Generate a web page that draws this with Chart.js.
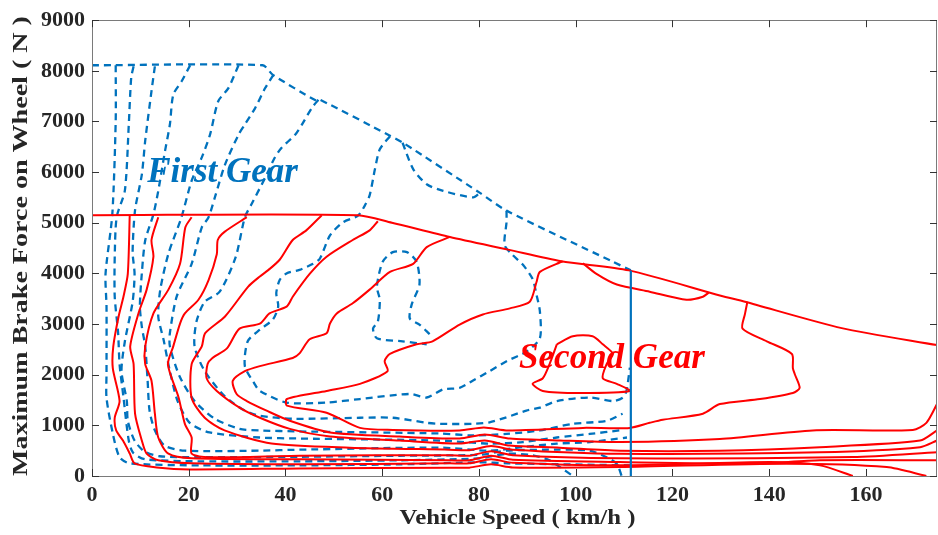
<!DOCTYPE html>
<html><head><meta charset="utf-8">
<script src="https://cdn.jsdelivr.net/npm/chart.js@4.4.0/dist/chart.umd.min.js"></script>
<style>html,body{margin:0;padding:0;background:#fff;}#wrap{width:938px;height:535px;}</style>
</head><body><div id="wrap"><canvas id="c" width="938" height="535"></canvas></div>
<script>
// ---- tick labels / text ----
const xTicks = [0,20,40,60,80,100,120,140,160];
const yTicks = [0,1000,2000,3000,4000,5000,6000,7000,8000,9000];
const xTitle = 'Vehicle Speed ( km/h )';
const yTitle = 'Maximum Brake Force on Wheel ( N )';
const firstGearText = 'First Gear';
const secondGearText = 'Second Gear';
const firstGearAt = [27, 5990];
const secondGearAt = [107.5, 2310];

// ---- second gear (red, solid) contours: [speed km/h, force N] ----
const redBoundary = [[0,5150],[55,5150],[62,5000],[74,4720],[86,4470],[97,4240],[111,4060],[130,3560],[135,3440],[155,2920],[175,2580]];
const red1 = [[7.8,5150],[7.4,3990],[6.5,3540],[5.5,3150],[4.4,2560],[4.3,2130],[5.7,1480],[4.7,1150],[5.0,900],[6.4,700],[7.8,445],[8.8,250],[13.4,170],[20.2,130],[42.9,150],[73.9,165],[78,165],[82.5,230],[87,170],[109.1,176],[143.6,243],[164.3,176],[172.5,0]];
const red2 = [[13.7,5110],[12.3,4660],[12.7,4330],[11.3,3680],[9.6,3210],[7.9,2560],[8.6,2210],[8.9,1230],[10.3,700],[11.3,440],[13.7,310],[20.6,250],[42.9,230],[73.9,250],[78,250],[82.5,330],[87,260],[109.1,210],[140.1,275],[150.5,210],[157.3,0]];
const red3 = [[20.6,5110],[19.3,4910],[18.2,4190],[15.8,3680],[12.7,3210],[11.0,2560],[11.0,2210],[12.3,1880],[13.0,1230],[13.7,760],[15.8,440],[20.6,350],[42.9,330],[73.9,310],[78,310],[82.5,400],[87,320],[109.1,275],[136.6,243],[150.5,310],[174.7,310]];
const red4 = [[32.0,5110],[27.4,4820],[26.0,4660],[25.8,4380],[24.1,3870],[22.0,3480],[19.2,3210],[18.2,3010],[16.8,2560],[15.7,2200],[17.9,1550],[19.2,1030],[20.6,760],[20.6,440],[24.1,370],[42.9,400],[73.9,410],[78,400],[82.5,490],[87,410],[109.1,350],[157.3,373],[174.7,470]];
const red5 = [[47.5,5150],[44.3,4850],[41.5,4660],[38.8,4270],[36.5,4070],[34.7,3940],[32.3,3740],[27.5,3150],[23.4,2820],[22.7,2560],[20.6,2210],[20.6,1540],[23.3,1150],[27.4,900],[37.1,640],[53.3,560],[73.9,520],[78,510],[82.5,590],[87,520],[109.1,440],[150.5,470],[171.2,570],[174.7,700]];
const red6 = [[59.1,5030],[57.4,4850],[53.9,4660],[48.5,4330],[45.0,3990],[41.5,3540],[40.3,3350],[36.7,3210],[34.7,3010],[30.5,2910],[27.9,2520],[24.9,2330],[23.9,2210],[23.7,1930],[25.8,1680],[30.5,1350],[34.7,1150],[40.9,930],[49.2,780],[63.6,700],[76,640],[81.2,700],[86.4,600],[96.7,560],[109.1,500],[129.8,500],[150.5,570],[171.2,700],[174.7,900]];
const red7 = [[74,4720],[69.2,4520],[66.4,4190],[61.6,4030],[57.4,3680],[53.9,3410],[50.6,3210],[49.2,3010],[48.5,2820],[45,2700],[42.9,2420],[41.5,2330],[34.7,2170],[31.6,2070],[29.1,1880],[29.9,1620],[32,1480],[36.1,1290],[40.9,1090],[49.2,860],[63.6,780],[76,740],[81.2,820],[86.4,740],[96.7,700],[109.1,670],[129.8,730],[149,900],[169.7,910],[172.5,1050],[174.7,1420]];
const red8 = [[97.3,4240],[92.6,4030],[91.9,3830],[90.5,3440],[86.4,3310],[80.8,3190],[76,2990],[70.4,2660],[67.1,2600],[61.6,2410],[60.5,2270],[61.1,2070],[55.4,1820],[48.5,1680],[40.3,1520],[40.3,1390],[48.5,1250],[55.4,950],[62.2,910],[76,900],[81,960],[86,900],[101.5,950],[111.2,950],[115.3,1050],[118,1110],[126.3,1230],[129.8,1420],[138.1,1520],[144.9,1640],[146.3,1740],[145.3,2010],[144.9,2130],[144.7,2410],[139.5,2660],[134.5,2910],[135,3200],[135.5,3440]];
const red9 = [[101.5,4200],[104.3,3990],[108.5,3780],[115.3,3640],[122.9,3480],[126.3,3540],[127.5,3620]];
const red10 = [[96.1,2600],[99.4,2760],[103.5,2760],[105.6,2600],[107.7,2410],[106.4,2210],[105.6,1930],[108.5,1820],[111.2,1680],[100.8,1640],[93.2,1680],[91.1,1820],[93.2,1930],[94.6,2210],[96.1,2600]];

// ---- first gear (blue, dashed) contours ----
const blueBoundary = [[0,8110],[35.3,8110],[37.4,7920],[46.4,7410],[47.1,7430],[61.6,6720],[64.3,6580],[80.2,5590],[85.7,5240],[107.7,4230],[111.4,4060]];
const blueShiftLine = [[111.4,0],[111.4,4060]];
const blue1 = [[4.9,8110],[4.9,7010],[4.2,5170],[2.8,3990],[3.0,3350],[3.0,2010],[3.0,1540],[4.3,840],[5.7,370],[7.8,250],[22.3,210],[42.9,210],[63.6,230],[80.2,270],[86,250],[111.4,210]];
const blue2 = [[8.6,8090],[8.1,7860],[7.6,6930],[6.8,5640],[5.1,5110],[4.7,4330],[4.7,3540],[5.4,2820],[5.7,2210],[6.5,1560],[7.6,700],[8.5,460],[11,330],[22.3,290],[42.9,290],[63.6,310],[80.2,350],[85.8,440],[91.1,410],[94.6,310],[96.7,180],[99.4,0]];
const blue3 = [[13.0,8090],[12.3,7600],[11.0,6620],[10.3,5950],[8.9,5250],[8.4,4420],[8.8,3990],[8.4,3440],[6.8,2660],[6.1,2070],[7.2,1480],[7.4,1090],[8.8,700],[10.9,480],[14,390],[22.3,370],[42.9,380],[63.6,400],[80.2,420],[85.8,500],[96,520],[102.9,500],[106.4,370],[108.5,240],[109.5,0]];
const blue4 = [[20.3,8110],[18.5,7790],[16.8,7530],[16.1,6940],[15.1,6420],[13.7,5630],[12.7,5170],[11,4650],[10.3,4000],[9.9,3350],[10.3,2950],[11,2560],[11.5,1880],[11.9,1290],[13,900],[15,600],[19.2,500],[34.7,500],[42.9,520],[71.9,560],[82.2,500],[89.1,570],[96.1,640],[102.9,670],[110.6,760]];
const blue5 = [[30.3,8110],[28.2,7660],[26.1,7400],[24.4,6740],[22.7,6290],[20.6,5830],[18.5,5110],[15.8,4390],[14.1,3670],[13.7,3150],[14.8,2690],[16.1,2070],[17.7,1480],[20.2,1050],[24.3,860],[34.7,760],[42.9,740],[71.9,700],[82.2,640],[89.1,670],[96.1,760],[102.9,830],[109.1,900]];
const blue6 = [[37.5,7920],[35.8,7660],[33.7,7260],[31.6,6940],[30.3,6740],[27.5,6150],[25.4,5500],[24.1,5110],[22.7,4910],[20.6,4190],[17.5,3540],[16.1,2820],[16.1,2560],[18.1,1970],[21.2,1480],[25.4,1130],[30.5,930],[34.7,900],[42.9,880],[71.9,840],[78.8,800],[85.7,830],[92.6,900],[99.4,1030],[106.4,1090],[109.7,1230]];
const blue7 = [[46.8,7430],[45.4,7260],[43.4,6940],[42,6740],[39.2,6480],[37.8,6290],[35.8,5890],[33,5370],[31.6,5110],[29.7,4320],[26.4,3640],[23.3,3440],[21.6,3050],[21.2,2560],[23.3,2070],[27.4,1580],[31.6,1290],[34.7,1190],[41.5,1130],[55.4,1150],[62.2,1150],[69.2,1050],[71.9,1030],[78.7,1030],[82.2,1060],[85.7,1160],[89.8,1290],[92.6,1350],[96.1,1480],[102.9,1550],[107.7,1480],[109.8,1550],[110.5,1680],[111.2,2140]];
const blue8 = [[61.6,6710],[59.5,6450],[58.5,6060],[57.4,5540],[56.4,5340],[55,5140],[51.9,5010],[49.2,4750],[47.1,4290],[45.7,4190],[42.9,4070],[40.2,4000],[38.8,3870],[38.1,3610],[38.5,3350],[37.4,3090],[34.7,2890],[32.2,2660],[31.6,2170],[33.6,1820],[34.7,1680],[40.2,1450],[48.5,1450],[55.4,1520],[65.7,1620],[69.2,1550],[72.6,1710],[76,1740],[78.7,1880],[82.2,2070],[85.8,2270],[89.9,2460],[92.6,2720],[92.6,3250],[91.9,3580],[91.1,3890],[89.1,4170],[87,4360],[85.3,4560],[85.7,5010],[85.7,5240]];
const blue9 = [[64.2,6580],[66.4,6060],[69.2,5760],[72.6,5630],[78.8,5500],[80.2,5590]];
const blueLoop = [[69.8,2800],[67.7,2990],[65.7,3110],[66.1,3390],[67.7,3780],[67.1,4230],[65.1,4420],[62.2,4420],[60.1,4230],[58.9,3740],[59.5,3480],[59.1,3050],[58.1,2910],[58.9,2720],[64.2,2660],[69.2,2600]];

const RED = 'rgb(255,0,0)';
const BLUE = 'rgb(0,114,189)';
const FONT = '"Liberation Serif","Times New Roman",serif';

function pts(a){ return a.map(p => ({x:p[0], y:p[1]})); }
function redSet(a){ return {data:pts(a), borderColor:RED, borderWidth:2, showLine:true, pointRadius:0, tension:0.25, fill:false}; }
function blueSet(a){ return {data:pts(a), borderColor:BLUE, borderWidth:2.3, borderDash:[7,5], showLine:true, pointRadius:0, tension:0.25, fill:false}; }

const datasets = [
  {data:pts(blueShiftLine), borderColor:BLUE, borderWidth:2.2, showLine:true, pointRadius:0, fill:false},
  ...[redBoundary,red1,red2,red3,red4,red5,red6,red7,red8,red9,red10].map(redSet),
  ...[blueBoundary,blue1,blue2,blue3,blue4,blue5,blue6,blue7,blue8,blue9,blueLoop].map(blueSet)
];

const framePlugin = {
  id:'frame',
  afterDatasetsDraw(chart){
    const {ctx, chartArea:a, scales:{x, y}} = chart;
    ctx.save();
    ctx.strokeStyle = '#7a7a7a'; ctx.lineWidth = 1;
    ctx.strokeRect(Math.round(a.left)+0.5, Math.round(a.top)+0.5, Math.round(a.right-a.left)-1, Math.round(a.bottom-a.top));
    ctx.strokeStyle = '#333';
    ctx.beginPath();
    const L = 7;
    xTicks.forEach(v => { const px = Math.round(x.getPixelForValue(v))+0.5;
      ctx.moveTo(px, a.bottom); ctx.lineTo(px, a.bottom-L);
      ctx.moveTo(px, a.top); ctx.lineTo(px, a.top+L); });
    yTicks.forEach(v => { const py = Math.round(y.getPixelForValue(v))+0.5;
      ctx.moveTo(a.left, py); ctx.lineTo(a.left+L, py);
      ctx.moveTo(a.right, py); ctx.lineTo(a.right-L, py); });
    ctx.stroke();
    ctx.restore();
  },
  afterDraw(chart){
    const {ctx, chartArea:a, scales:{x, y}} = chart;
    ctx.save();
    ctx.textAlign = 'center'; ctx.textBaseline = 'middle';
    ctx.font = 'italic bold 35px ' + FONT;
    ctx.fillStyle = BLUE;
    ctx.fillText(firstGearText, x.getPixelForValue(firstGearAt[0]), y.getPixelForValue(firstGearAt[1]));
    ctx.fillStyle = RED;
    ctx.fillText(secondGearText, x.getPixelForValue(secondGearAt[0]), y.getPixelForValue(secondGearAt[1]));
    ctx.fillStyle = '#262626';
    ctx.font = 'bold 21px ' + FONT;
    let w = ctx.measureText(xTitle).width;
    ctx.save();
    ctx.translate((a.left+a.right)/2 + 3, 519);
    ctx.scale(236/w, 1);
    ctx.fillText(xTitle, 0, 0);
    ctx.restore();
    w = ctx.measureText(yTitle).width;
    ctx.save();
    ctx.translate(22, (a.top+a.bottom)/2 - 2);
    ctx.rotate(-Math.PI/2);
    ctx.scale(460/w, 1);
    ctx.fillText(yTitle, 0, 0);
    ctx.restore();
    ctx.restore();
  }
};

new Chart(document.getElementById('c'), {
  type:'scatter',
  data:{datasets},
  options:{
    responsive:false, animation:false, devicePixelRatio:1,
    layout:{padding:{top:16, right:1, left:0, bottom:0}},
    plugins:{legend:{display:false}, tooltip:{enabled:false}},
    scales:{
      x:{type:'linear', min:0, max:174.7,
        afterBuildTicks:s => { s.ticks = xTicks.map(v => ({value:v})); },
        afterFit:s => { s.height = 59; },
        ticks:{font:{family:FONT, weight:'bold', size:22}, color:'#262626', padding:6, maxRotation:0, autoSkip:false, callback:v => String(v)},
        grid:{display:false, drawTicks:false}, border:{display:false}},
      y:{type:'linear', min:0, max:9000,
        afterBuildTicks:s => { s.ticks = yTicks.map(v => ({value:v})); },
        afterFit:s => { s.width = 92; },
        ticks:{font:{family:FONT, weight:'bold', size:22}, color:'#262626', padding:7, autoSkip:false, callback:v => String(v)},
        grid:{display:false, drawTicks:false}, border:{display:false}}
    }
  },
  plugins:[framePlugin]
});
</script></body></html>
